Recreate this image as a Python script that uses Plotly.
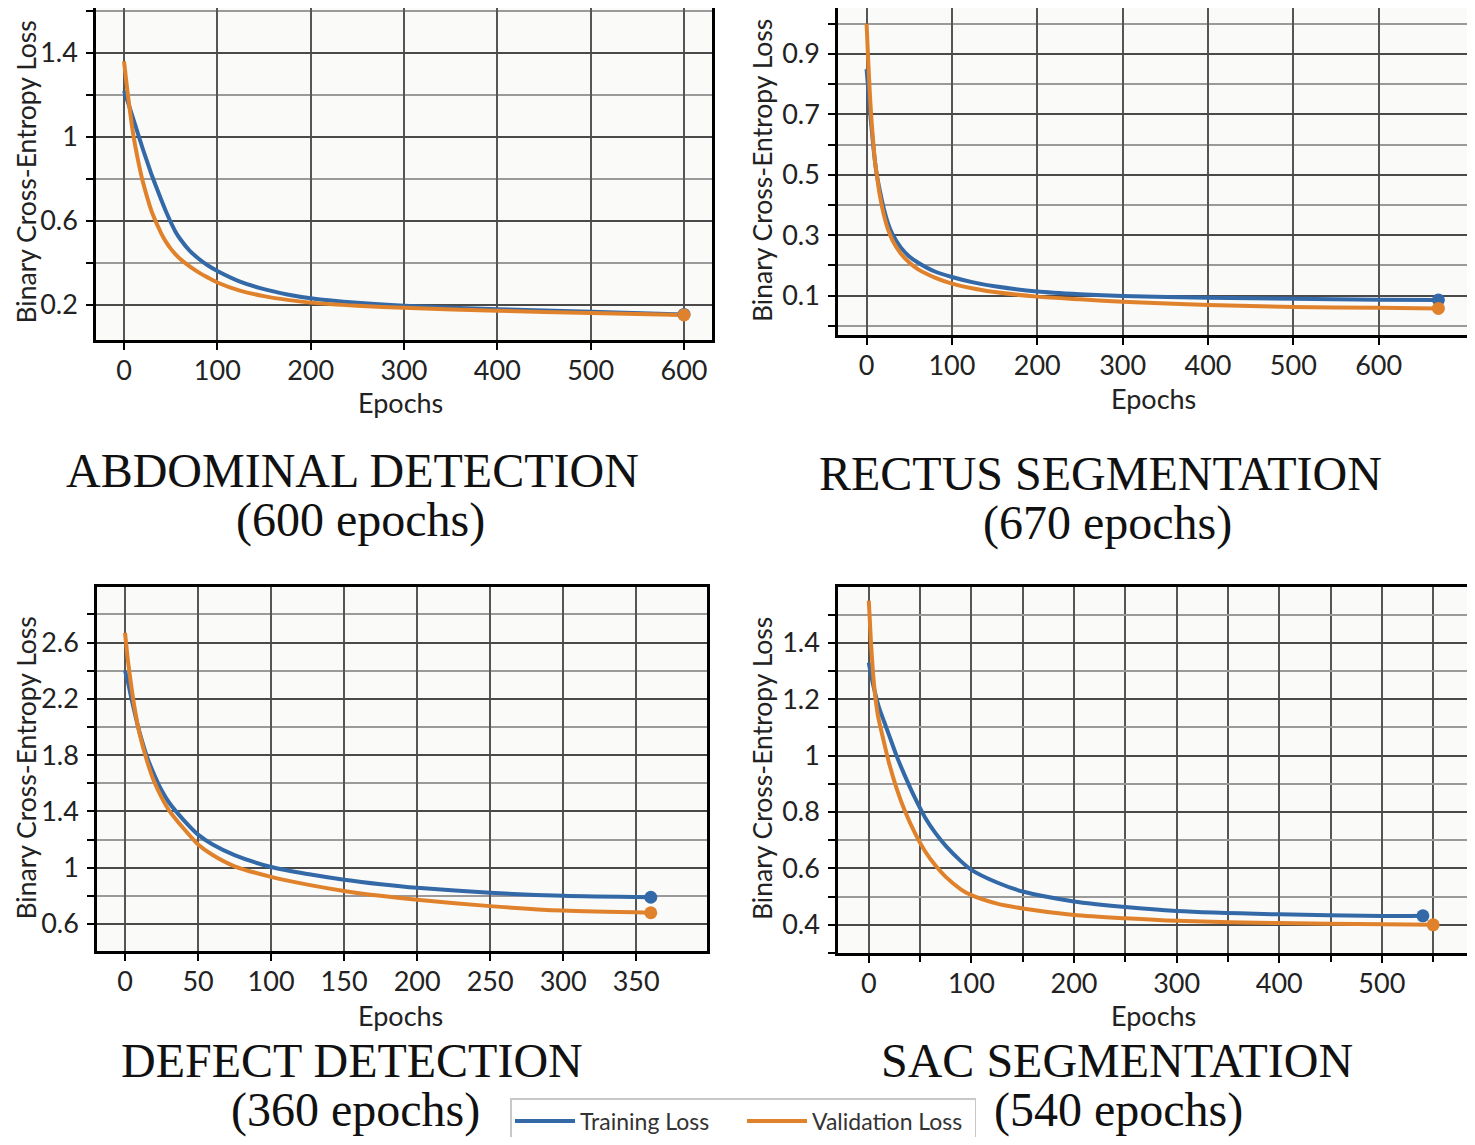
import plotly.graph_objects as go

W, H = 1475, 1145
OFF = 8                      # page body margin of the html page
WF, HF = W - 2 * OFF, H - 2 * OFF

# ---------------- data ----------------
abd_epochs = [0, 5, 10, 15, 20, 25, 30, 40, 45, 50, 55, 60, 70, 80, 90, 100, 125, 150, 175, 200, 250, 300, 400, 500, 600]
abd_train = [1.22, 1.155, 1.085, 1.015, 0.945, 0.88, 0.815, 0.70, 0.645, 0.595, 0.55, 0.515, 0.46, 0.42, 0.388, 0.362, 0.31, 0.275, 0.25, 0.232, 0.21, 0.196, 0.18, 0.167, 0.155]
abd_val = [1.36, 1.17, 1.01, 0.89, 0.79, 0.71, 0.64, 0.54, 0.50, 0.468, 0.442, 0.42, 0.385, 0.355, 0.33, 0.307, 0.267, 0.242, 0.224, 0.211, 0.196, 0.186, 0.172, 0.162, 0.152]

rec_epochs = [0, 2, 4, 6, 8, 10, 12, 15, 20, 25, 30, 40, 50, 60, 80, 100, 125, 150, 200, 250, 300, 400, 500, 600, 670]
rec_train = [0.85, 0.78, 0.71, 0.65, 0.59, 0.54, 0.50, 0.455, 0.39, 0.34, 0.305, 0.26, 0.23, 0.21, 0.18, 0.162, 0.144, 0.131, 0.114, 0.105, 0.099, 0.093, 0.09, 0.087, 0.086]
rec_val = [1.0, 0.87, 0.76, 0.67, 0.60, 0.54, 0.50, 0.44, 0.37, 0.32, 0.285, 0.24, 0.21, 0.188, 0.16, 0.14, 0.124, 0.112, 0.097, 0.088, 0.08, 0.069, 0.063, 0.06, 0.058]

def_epochs = [0, 2, 4, 6, 8, 10, 15, 20, 25, 30, 40, 50, 60, 75, 100, 125, 150, 175, 200, 250, 300, 360]
def_train = [2.40, 2.32, 2.22, 2.13, 2.04, 1.96, 1.79, 1.66, 1.55, 1.465, 1.34, 1.235, 1.165, 1.09, 1.005, 0.955, 0.915, 0.883, 0.857, 0.822, 0.80, 0.79]
def_val = [2.67, 2.47, 2.31, 2.17, 2.05, 1.95, 1.76, 1.61, 1.50, 1.41, 1.28, 1.165, 1.09, 1.01, 0.935, 0.88, 0.835, 0.80, 0.772, 0.727, 0.695, 0.68]

sac_train_epochs = [0, 2, 5, 10, 15, 20, 27, 35, 45, 55, 65, 75, 90, 100, 125, 150, 200, 250, 300, 400, 500, 540]
sac_train = [1.33, 1.29, 1.24, 1.17, 1.12, 1.07, 1.0, 0.93, 0.85, 0.78, 0.725, 0.68, 0.625, 0.595, 0.55, 0.518, 0.483, 0.463, 0.449, 0.437, 0.431, 0.432]
sac_val_epochs = [0, 2, 4, 6, 9, 14, 20, 27, 35, 45, 55, 65, 75, 90, 100, 125, 150, 200, 250, 300, 400, 500, 550]
sac_val = [1.55, 1.41, 1.30, 1.22, 1.14, 1.06, 0.97, 0.885, 0.805, 0.725, 0.66, 0.61, 0.57, 0.525, 0.505, 0.475, 0.458, 0.435, 0.423, 0.414, 0.406, 0.402, 0.40]

titles = [("ABDOMINAL DETECTION", "(600 epochs)"),
          ("RECTUS SEGMENTATION", "(670 epochs)"),
          ("DEFECT DETECTION", "(360 epochs)"),
          ("SAC SEGMENTATION", "(540 epochs)")]

abd_xticks = [0, 100, 200, 300, 400, 500, 600]
rec_xticks = [0, 100, 200, 300, 400, 500, 600]
def_xticks = [0, 50, 100, 150, 200, 250, 300, 350]
sac_xticks = [0, 100, 200, 300, 400, 500]

BLUE = "#3469a8"
ORANGE = "#e0822c"

fig = go.Figure()

panels = [
    (abd_epochs, abd_train, abd_epochs, abd_val),
    (rec_epochs, rec_train, rec_epochs, rec_val),
    (def_epochs, def_train, def_epochs, def_val),
    (sac_train_epochs, sac_train, sac_val_epochs, sac_val),
]

for i, (xt, yt, xv, yv) in enumerate(panels):
    xa = "x" if i == 0 else f"x{i+1}"
    ya = "y" if i == 0 else f"y{i+1}"
    fig.add_trace(go.Scatter(x=xt, y=yt, mode="lines", name="Training Loss",
                             line=dict(color=BLUE, width=4, shape="spline", smoothing=0.7),
                             xaxis=xa, yaxis=ya, showlegend=(i == 0), legendgroup="t"))
    fig.add_trace(go.Scatter(x=xv, y=yv, mode="lines", name="Validation Loss",
                             line=dict(color=ORANGE, width=4, shape="spline", smoothing=0.7),
                             xaxis=xa, yaxis=ya, showlegend=(i == 0), legendgroup="v"))
    fig.add_trace(go.Scatter(x=[xt[-1]], y=[yt[-1]], mode="markers",
                             marker=dict(color=BLUE, size=13), xaxis=xa, yaxis=ya,
                             showlegend=False, hoverinfo="skip"))
    fig.add_trace(go.Scatter(x=[xv[-1]], y=[yv[-1]], mode="markers",
                             marker=dict(color=ORANGE, size=13), xaxis=xa, yaxis=ya,
                             showlegend=False, hoverinfo="skip"))

def dx(p):
    return min(max((p - OFF) / WF, 0.0), 1.0)

def dy(p):
    return min(max(1 - (p - OFF) / HF, 0.0), 1.0)

TICKFONT = dict(family="Lato", size=27, color="#222")

def xaxis(dom, rng, tickvals, minor_dtick=None, anchor="y"):
    d = dict(domain=dom, range=rng, tickmode="array", tickvals=tickvals, anchor=anchor,
             showline=True, linecolor="black", linewidth=2.5, mirror=True,
             ticks="outside", ticklen=7, tickwidth=2, tickcolor="black",
             showgrid=True, gridcolor="#555555", gridwidth=2, zeroline=False,
             tickfont=TICKFONT, ticklabelstandoff=-2, automargin=False)
    if minor_dtick:
        d["minor"] = dict(dtick=minor_dtick, tick0=0, showgrid=True, gridcolor="#555555",
                          gridwidth=2, ticks="outside", ticklen=6, tickcolor="black")
    return d

def yaxis(dom, rng, dtick, tick0, minor_dtick, anchor="x"):
    return dict(domain=dom, range=rng, dtick=dtick, tick0=tick0, anchor=anchor,
                showline=True, linecolor="black", linewidth=2.5, mirror=True,
                ticks="outside", ticklen=7, tickwidth=2, tickcolor="black",
                showgrid=True, gridcolor="#4a4a4a", gridwidth=2.2, zeroline=False,
                tickfont=TICKFONT, ticklabelstandoff=3, automargin=False,
                minor=dict(dtick=minor_dtick, tick0=tick0, showgrid=True, gridcolor="#9a9a9a",
                           gridwidth=1.8, ticks="outside", ticklen=7, tickcolor="black"))

fig.update_layout(
    xaxis=xaxis([dx(96), dx(712)], [-30, 630], abd_xticks),
    yaxis=yaxis([dy(340), dy(8)], [0.033, 1.614], 0.4, 0.2, 0.2),
    xaxis2=xaxis([dx(838), dx(1467)], [-33.5, 703.5], rec_xticks, anchor="y2"),
    yaxis2=yaxis([dy(335), dy(8)], [-0.03, 1.052], 0.2, 0.1, 0.1, anchor="x2"),
    xaxis3=xaxis([dx(97), dx(707)], [-19.2, 398.5], def_xticks, anchor="y3"),
    yaxis3=yaxis([dy(951), dy(587)], [0.408, 2.995], 0.4, 0.2, 0.2, anchor="x3"),
    xaxis4=xaxis([dx(838), dx(1467)], [-30, 583], sac_xticks, minor_dtick=50, anchor="y4"),
    yaxis4=yaxis([dy(953), dy(587)], [0.30, 1.598], 0.2, 0.0, 0.1, anchor="x4"),
)

annotations = []

def ann(text, x, y, size, family, angle=0, color="#222"):
    annotations.append(dict(text=text, x=dx(x), y=dy(y), xref="paper", yref="paper",
                            xanchor="center", yanchor="middle", showarrow=False,
                            textangle=angle, font=dict(family=family, size=size, color=color)))

ylab = "Binary Cross-Entropy Loss"
for (x, y) in [(25.5, 172), (762, 170), (25.5, 768), (762, 768)]:
    ann(ylab, x, y, 26.5, "Lato", angle=-90)
for (x, y) in [(400, 402), (1153, 398), (400, 1015), (1153, 1015)]:
    ann("Epochs", x, y, 27, "Lato")

title_pos = [((352, 470), (360, 520)), ((1100, 473), (1107, 523)),
             ((352, 1060), (355, 1110)), ((1117, 1060), (1118, 1110))]
for (t1, t2), ((x1, y1), (x2, y2)) in zip(titles, title_pos):
    ann(t1, x1, y1, 48, "Liberation Serif", color="#111")
    ann(t2, x2, y2, 48, "Liberation Serif", color="#111")

fig.update_layout(
    width=WF, height=HF,
    margin=dict(l=0, r=0, t=0, b=0, autoexpand=False),
    paper_bgcolor="white",
    plot_bgcolor="#fafaf8",
    annotations=annotations,
    legend=dict(orientation="h", x=dx(510), y=dy(1098), xanchor="left", yanchor="top",
                bordercolor="#c8c8c8", borderwidth=1.5, bgcolor="white",
                font=dict(family="Lato", size=23, color="#333"),
                itemwidth=60, entrywidth=157),
    showlegend=True,
)

fig.write_html("out.html")
